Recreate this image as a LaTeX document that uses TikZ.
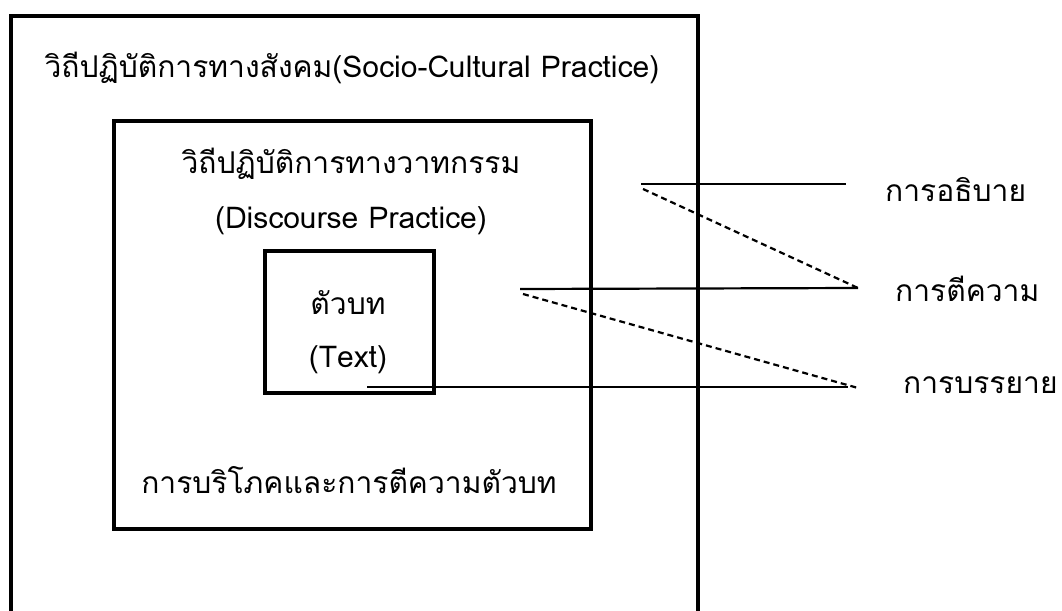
\documentclass[tikz,border=0pt]{standalone}
\usepackage{fontspec}
\setmainfont[Script=Thai]{Loma}
\begin{document}
\begin{tikzpicture}[x=1pt,y=-1pt,
  frame/.style={line width=3.4pt},
  solidline/.style={line width=2.2pt},
  dashline/.style={line width=2.2pt,dash pattern=on 6pt off 4pt},
  lbl/.style={inner sep=0pt,font=\fontsize{30}{34}\selectfont},
  side/.style={inner sep=0pt,anchor=west,font=\fontsize{30}{34}\selectfont}]
\useasboundingbox (0,0) rectangle (1062,610);
% outer frame (open at bottom)
\draw[frame] (11,612) -- (11,16) -- (698,16) -- (698,612);
% inner frame
\draw[frame] (114,121) rectangle (591,529);
% text box
\draw[frame] (265,251) rectangle (434,393);
% texts
\node[lbl] (social) at (352,68) {วิถีปฏิบัติการทางสังคม(Socio-Cultural Practice)};
\node[lbl] (disc) at (351,164) {วิถีปฏิบัติการทางวาทกรรม};
\node[lbl] (discen) at (351,221) {(Discourse Practice)};
\node[lbl] (txt) at (348,303) {ตัวบท};
\node[lbl] (txten) at (348,360) {(Text)};
\node[lbl] (cons) at (349,480) {การบริโภคและการตีความตัวบท};
\node[side] (explain) at (885,190) {การอธิบาย};
\node[side] (interp) at (895,289) {การตีความ};
\node[side] (descr) at (903,385) {การบรรยาย};
% connector end points
\coordinate (a1) at (641,184);
\coordinate (a2) at (846,184);
\coordinate (d1a) at (643,189);
\coordinate (d1b) at (858,288);
\coordinate (b1) at (520,289);
\coordinate (b2) at (858,288);
\coordinate (d2a) at (523,294);
\coordinate (d2b) at (858,388);
\coordinate (c1) at (367,387);
\coordinate (c2) at (848,387);
\draw[solidline] (a1) -- (a2);
\draw[dashline] (d1a) -- (d1b);
\draw[solidline] (b1) -- (b2);
\draw[dashline] (d2a) -- (d2b);
\draw[solidline] (c1) -- (c2);
\end{tikzpicture}
\end{document}
